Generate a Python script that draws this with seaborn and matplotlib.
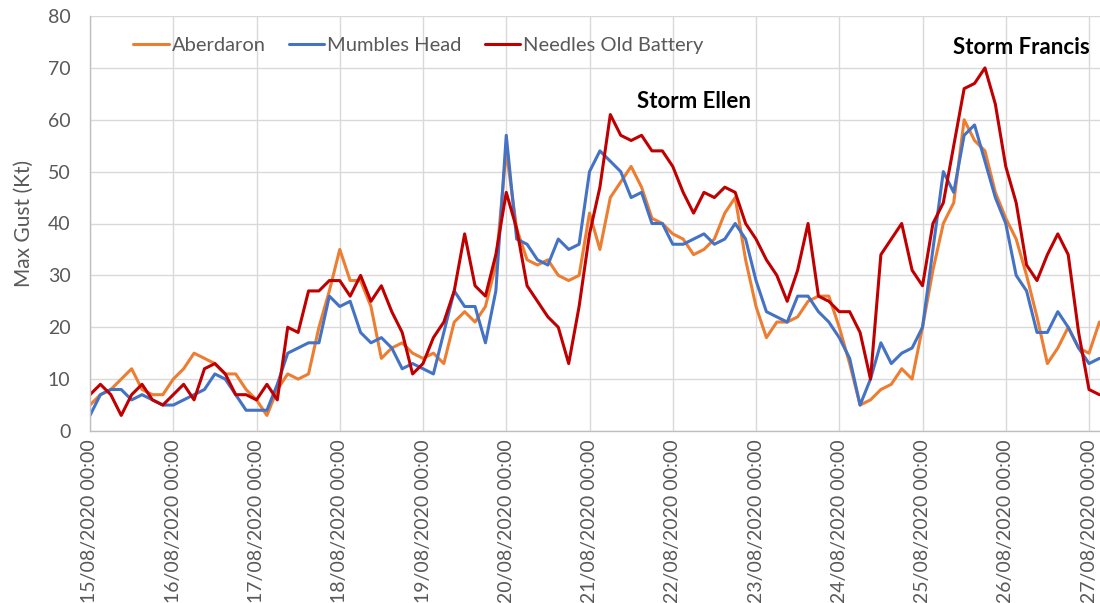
"""Max gust at three coastal stations, 15-27 Aug 2020 (storms Ellen and Francis)."""

import matplotlib

matplotlib.use("Agg")
import matplotlib.dates as mdates
import matplotlib.pyplot as plt
import pandas as pd
import seaborn as sns

# 3-hourly samples starting 15/08/2020 00:00
START = "2020-08-15 00:00"
STATIONS = ["Aberdaron", "Mumbles Head", "Needles Old Battery"]
COLOURS = ["#ED7D31", "#4472C4", "#C00000"]

aberdaron = [
    5, 7, 8, 10, 12, 8, 7, 7,
    10, 12, 15, 14, 13, 11, 11, 8,
    6, 3, 8, 11, 10, 11, 20, 27,
    35, 29, 29, 24, 14, 16, 17, 15,
    14, 15, 13, 21, 23, 21, 24, 32,
    54, 39, 33, 32, 33, 30, 29, 30,
    42, 35, 45, 48, 51, 47, 41, 40,
    38, 37, 34, 35, 37, 42, 45, 33,
    24, 18, 21, 21, 22, 25, 26, 26,
    20, 13, 5, 6, 8, 9, 12, 10,
    20, 31, 40, 44, 60, 56, 54, 46,
    41, 37, 30, 22, 13, 16, 20, 16,
    15, 21,
]
mumbles_head = [
    3, 7, 8, 8, 6, 7, 6, 5,
    5, 6, 7, 8, 11, 10, 7, 4,
    4, 4, 9, 15, 16, 17, 17, 26,
    24, 25, 19, 17, 18, 16, 12, 13,
    12, 11, 19, 27, 24, 24, 17, 27,
    57, 37, 36, 33, 32, 37, 35, 36,
    50, 54, 52, 50, 45, 46, 40, 40,
    36, 36, 37, 38, 36, 37, 40, 37,
    29, 23, 22, 21, 26, 26, 23, 21,
    18, 14, 5, 10, 17, 13, 15, 16,
    20, 35, 50, 46, 57, 59, 52, 45,
    40, 30, 27, 19, 19, 23, 20, 16,
    13, 14,
]
needles = [
    7, 9, 7, 3, 7, 9, 6, 5,
    7, 9, 6, 12, 13, 11, 7, 7,
    6, 9, 6, 20, 19, 27, 27, 29,
    29, 26, 30, 25, 28, 23, 19, 11,
    13, 18, 21, 27, 38, 28, 26, 34,
    46, 39, 28, 25, 22, 20, 13, 24,
    38, 47, 61, 57, 56, 57, 54, 54,
    51, 46, 42, 46, 45, 47, 46, 40,
    37, 33, 30, 25, 31, 40, 26, 25,
    23, 23, 19, 10, 34, 37, 40, 31,
    28, 40, 44, 55, 66, 67, 70, 63,
    51, 44, 32, 29, 34, 38, 34, 19,
    8, 7,
]

storm_labels = ["Storm Ellen", "Storm Francis"]
storm_times = ["2020-08-22 06:00", "2020-08-26 04:30"]
storm_levels = [63.5, 74]

times = pd.date_range(START, periods=len(aberdaron), freq="3h")
df = pd.concat(
    [
        pd.DataFrame({"time": times, "gust": vals, "station": name})
        for name, vals in zip(STATIONS, [aberdaron, mumbles_head, needles])
    ],
    ignore_index=True,
)

sns.set_theme(style="whitegrid")
plt.rcParams["font.family"] = ["Lato", "DejaVu Sans"]

grey = "#595959"
fig = plt.figure(figsize=(11, 6.03), dpi=100)
ax = fig.add_axes([90 / 1100, 1 - 431 / 603, 1 - 90 / 1100, 415 / 603])

sns.lineplot(
    data=df,
    x="time",
    y="gust",
    hue="station",
    hue_order=STATIONS,
    palette=COLOURS,
    linewidth=2.2,
    ax=ax,
)

ax.set_ylim(0, 80)
ax.set_yticks(range(0, 81, 10))
ax.set_xlim(pd.Timestamp(START), pd.Timestamp("2020-08-27 03:10"))
ax.xaxis.set_major_locator(mdates.DayLocator())
ax.xaxis.set_major_formatter(mdates.DateFormatter("%d/%m/%Y %H:%M"))
ax.tick_params(axis="x", labelrotation=90, labelsize=14, colors=grey, length=0, pad=6)
ax.tick_params(axis="y", labelsize=14, colors=grey, length=0, pad=14)
ax.set_xlabel("")
ax.set_ylabel("Max Gust (Kt)", fontsize=15, color=grey, labelpad=10)

ax.grid(True, color="#D9D9D9", linewidth=1)
for side in ["top", "right"]:
    ax.spines[side].set_visible(False)
for side in ["left", "bottom"]:
    ax.spines[side].set_color("#BFBFBF")
    ax.spines[side].set_linewidth(1)

for label, when, level in zip(storm_labels, storm_times, storm_levels):
    ax.text(pd.Timestamp(when), level, label, ha="center", va="center",
            fontsize=16, fontweight="bold", color="black")

leg = ax.legend(
    loc="center left",
    bbox_to_anchor=(0.033, 0.93),
    ncol=3,
    frameon=False,
    borderpad=0,
    fontsize=14.5,
    handlelength=1.75,
    handletextpad=0.15,
    columnspacing=1.15,
)
for text in leg.get_texts():
    text.set_color(grey)

fig.savefig("out.png", dpi=100)
